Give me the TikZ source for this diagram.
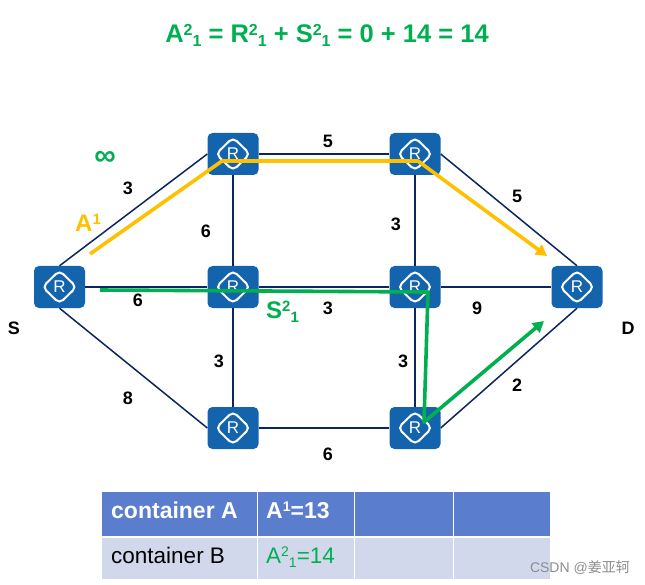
\documentclass[tikz,border=0pt]{standalone}
\usepackage{fontspec}
\setmainfont{Liberation Sans}
\newfontfamily\cjkf{Noto Sans CJK SC}
\usetikzlibrary{backgrounds,arrows.meta,calc}
\definecolor{rblue}{HTML}{1464AD}
\definecolor{lnk}{HTML}{0B2560}
\definecolor{gr}{HTML}{00B050}
\definecolor{og}{HTML}{FFC000}
\definecolor{hd}{HTML}{5A7DCE}
\definecolor{rw}{HTML}{D2D8EC}
\tikzset{
 router/.style={rectangle,rounded corners=5pt,fill=rblue,minimum width=51pt,minimum height=42pt,inner sep=0pt,text=white,font=\fontsize{17}{17}\selectfont,
   path picture={\draw[white,line width=2pt,miter limit=10] ($(path picture bounding box.center)+(-17pt,0)$)--++(17pt,16.5pt)--++(17pt,-16.5pt)--++(-17pt,-16.5pt)--cycle;}},
 lk/.style={draw=lnk,line width=1.5pt},
 wt/.style={font=\bfseries\fontsize{18}{18}\selectfont,inner sep=0pt},
 pathg/.style={draw=gr,line width=3.6pt,line join=round},
 patho/.style={draw=og,line width=3.6pt,line join=round},
 hcell/.style={fill=hd,minimum height=44pt,inner sep=0pt,anchor=north west},
 rcell/.style={fill=rw,minimum height=41pt,inner sep=0pt,anchor=north west},
 ctext/.style={anchor=west,inner sep=0pt,font=\fontsize{22.5}{22.5}\selectfont},
 pt/.style={inner sep=0pt,minimum size=0pt}
}
\begin{document}
\begin{tikzpicture}[x=1pt,y=-1pt]
\useasboundingbox (0,0) rectangle (645,585);
\node[router] (S) at (59.5,287) {R};
\node[router] (A) at (233,154) {R};
\node[router] (B) at (415,154) {R};
\node[router] (C) at (233,287) {R};
\node[router] (E) at (415,287) {R};
\node[router] (D) at (577,287) {R};
\node[router] (F) at (233,428) {R};
\node[router] (G) at (415,428) {R};
\begin{pgfonlayer}{background}
\draw[lk] (S.north)--(A.west);
\draw[lk] (A)--(B);
\draw[lk] (B.east)--(D.north);
\draw[lk] (S)--(C);
\draw[lk] (C)--(E);
\draw[lk] (E)--(D);
\draw[lk] (S.south)--(F.west);
\draw[lk] (F)--(G);
\draw[lk] (G.east)--(D.south);
\draw[lk] (A)--(C);
\draw[lk] (C)--(F);
\draw[lk] (B)--(E);
\draw[lk] (E)--(G);
\end{pgfonlayer}
\coordinate (o0) at (90,254);\coordinate (o1) at (222,161);\coordinate (o2) at (418,161);\coordinate (o3) at (547,256);
\draw[patho,-{Triangle[length=11pt,width=12pt]}] (o0)--(o1)--(o2)--(o3);
\coordinate (g0) at (100,290);\coordinate (g1) at (428,292);\coordinate (g2) at (424,422);\coordinate (g3) at (544,321);
\draw[pathg,-{Triangle[length=11pt,width=12pt]}] (g0)--(g1)--(g2)--(g3);
\node[wt] (w1) at (128,188) {3};
\node[wt] (w2) at (328,141) {5};
\node[wt] (w3) at (517,196) {5};
\node[wt] (w4) at (206,231) {6};
\node[wt] (w5) at (396,224) {3};
\node[wt] (w6) at (138,300) {6};
\node[wt] (w7) at (328,308) {3};
\node[wt] (w8) at (477,308) {9};
\node[wt] (w9) at (219,361) {3};
\node[wt] (w10) at (403,361) {3};
\node[wt] (w11) at (128,398) {8};
\node[wt] (w12) at (517,385) {2};
\node[wt] (w13) at (328,454) {6};
\node[wt] (ls) at (14,328) {S};
\node[wt] (ld) at (628,328) {D};
\node[font=\bfseries\fontsize{30}{30}\selectfont,text=gr,inner sep=0pt] (inf) at (105,158) {∞};
\node[anchor=west,inner sep=0pt,text=og,font=\bfseries\fontsize{24}{24}\selectfont] (a1) at (75,223) {A\raisebox{7pt}{\fontsize{15}{15}\selectfont 1}};
\node[anchor=west,inner sep=0pt,text=gr,font=\bfseries\fontsize{24}{24}\selectfont] (s21) at (266,312) {S\raisebox{7pt}{\fontsize{15}{15}\selectfont 2}\raisebox{-4pt}{\fontsize{15}{15}\selectfont 1}};
\node[anchor=center,inner sep=0pt,text=gr,font=\bfseries\fontsize{25.5}{25.5}\selectfont] (title) at (327,35) {A\raisebox{7pt}{\fontsize{16}{16}\selectfont 2}\raisebox{-4pt}{\fontsize{16}{16}\selectfont 1} = R\raisebox{7pt}{\fontsize{16}{16}\selectfont 2}\raisebox{-4pt}{\fontsize{16}{16}\selectfont 1} + S\raisebox{7pt}{\fontsize{16}{16}\selectfont 2}\raisebox{-4pt}{\fontsize{16}{16}\selectfont 1} = 0 + 14 = 14};
% table
\node[hcell,minimum width=155pt] (h1) at (102,492) {};
\node[hcell,minimum width=96pt] (h2) at (258,492) {};
\node[hcell,minimum width=98pt] (h3) at (355,492) {};
\node[hcell,minimum width=96pt] (h4) at (454,492) {};
\node[rcell,minimum width=155pt] (r1) at (102,538) {};
\node[rcell,minimum width=96pt] (r2) at (258,538) {};
\node[rcell,minimum width=98pt] (r3) at (355,538) {};
\node[rcell,minimum width=96pt] (r4) at (454,538) {};
\node[ctext,text=white,font=\bfseries\fontsize{23}{23}\selectfont] (t1) at (111,510) {container A};
\node[ctext,text=white,font=\bfseries\fontsize{23}{23}\selectfont] (t2) at (266,510) {A\raisebox{7pt}{\fontsize{14}{14}\selectfont 1}=13};
\node[ctext] (t3) at (111,555) {container B};
\node[ctext,text=gr] (t4) at (266,557) {A\raisebox{7pt}{\fontsize{14}{14}\selectfont 2}\raisebox{-4pt}{\fontsize{14}{14}\selectfont 1}=14};
\node[anchor=east,inner sep=0pt,text=black!45,font=\fontsize{14}{14}\selectfont] (wm) at (630,568) {CSDN @{\cjkf 姜亚轲}};
\end{tikzpicture}
\end{document}
